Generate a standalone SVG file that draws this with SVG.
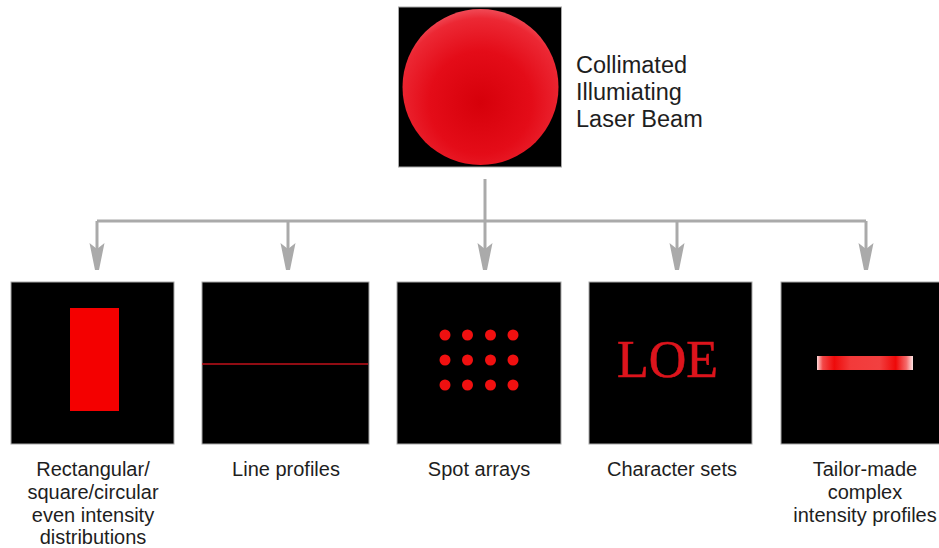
<svg xmlns="http://www.w3.org/2000/svg" width="939" height="548" viewBox="0 0 939 548">
<style>
  .panel { fill: #000; stroke: #a8a8a8; stroke-width: 1; }
  .lbl { font-family: "Liberation Sans", Arial, sans-serif; font-size: 20px; fill: #1e1e1e; text-anchor: middle; }
  .ttl { font-family: "Liberation Sans", Arial, sans-serif; font-size: 23.5px; fill: #1e1e1e; }
  .conn { stroke: #aaaaaa; stroke-width: 3; fill: none; }
  .head { fill: #aaaaaa; }
  .spot { fill: #f01010; }
</style>
<defs>
  <radialGradient id="beam" cx="0.5" cy="0.6" r="0.6">
    <stop offset="0" stop-color="#d6000a"/>
    <stop offset="0.55" stop-color="#e40c18"/>
    <stop offset="0.9" stop-color="#ec2834"/>
    <stop offset="1" stop-color="#f04a56"/>
  </radialGradient>
  <linearGradient id="bar" x1="0" y1="0" x2="1" y2="0">
    <stop offset="0" stop-color="#ffd8d8"/>
    <stop offset="0.06" stop-color="#f24848"/>
    <stop offset="0.18" stop-color="#ee0a0a"/>
    <stop offset="0.35" stop-color="#f23a3a"/>
    <stop offset="0.65" stop-color="#f24040"/>
    <stop offset="0.82" stop-color="#ee0808"/>
    <stop offset="0.93" stop-color="#f46a6a"/>
    <stop offset="1" stop-color="#ffe4e4"/>
  </linearGradient>
</defs>

<g id="connectors">
  <line class="conn" x1="485" y1="179" x2="485" y2="250"/>
  <line class="conn" x1="97" y1="221" x2="866" y2="221"/>
  <line class="conn" x1="97" y1="221" x2="97" y2="250"/>
  <line class="conn" x1="288" y1="221" x2="288" y2="250"/>
  <line class="conn" x1="677" y1="221" x2="677" y2="250"/>
  <line class="conn" x1="866" y1="221" x2="866" y2="250"/>
  <polygon class="head" points="89.5,243 97,249 104.5,243 99,270 95,270"/>
  <polygon class="head" points="280.5,243 288,249 295.5,243 290,270 286,270"/>
  <polygon class="head" points="477.5,243 485,249 492.5,243 487,270 483,270"/>
  <polygon class="head" points="669.5,243 677,249 684.5,243 679,270 675,270"/>
  <polygon class="head" points="858.5,243 866,249 873.5,243 868,270 864,270"/>
</g>

<g id="source">
  <rect class="panel" x="398.5" y="7" width="163" height="160"/>
  <circle cx="480.5" cy="87" r="78" fill="url(#beam)"/>
  <text class="ttl" x="576" y="73">Collimated</text>
  <text class="ttl" x="576" y="100">Illumiating</text>
  <text class="ttl" x="576" y="127">Laser Beam</text>
</g>

<g id="rectangular">
  <rect class="panel" x="11" y="282" width="163" height="162"/>
  <rect x="70" y="308" width="49" height="103" fill="#f40000"/>
  <text class="lbl" x="93" y="476">Rectangular/</text>
  <text class="lbl" x="93" y="499">square/circular</text>
  <text class="lbl" x="93" y="522">even intensity</text>
  <text class="lbl" x="93" y="544">distributions</text>
</g>

<g id="line-profiles">
  <rect class="panel" x="202" y="282" width="167" height="162"/>
  <line x1="202" y1="364" x2="368" y2="364" stroke="#c0101a" stroke-width="1.6"/>
  <text class="lbl" x="286" y="476">Line profiles</text>
</g>

<g id="spot-arrays">
  <rect class="panel" x="397" y="282" width="164" height="162"/>
  <circle class="spot" cx="445" cy="335" r="5.5"/>
  <circle class="spot" cx="467.5" cy="335" r="5.5"/>
  <circle class="spot" cx="490.5" cy="335" r="5.5"/>
  <circle class="spot" cx="513" cy="335" r="5.5"/>
  <circle class="spot" cx="445" cy="360" r="5.5"/>
  <circle class="spot" cx="467.5" cy="360" r="5.5"/>
  <circle class="spot" cx="490.5" cy="360" r="5.5"/>
  <circle class="spot" cx="513" cy="360" r="5.5"/>
  <circle class="spot" cx="445" cy="385" r="5.5"/>
  <circle class="spot" cx="467.5" cy="385" r="5.5"/>
  <circle class="spot" cx="490.5" cy="385" r="5.5"/>
  <circle class="spot" cx="513" cy="385" r="5.5"/>
  <text class="lbl" x="479" y="476">Spot arrays</text>
</g>

<g id="character-sets">
  <rect class="panel" x="589" y="282" width="163" height="162"/>
  <text x="667.5" y="377" font-family="'Liberation Serif', 'Times New Roman', serif" font-size="52" fill="#dc141c" stroke="#dc141c" stroke-width="0.6" text-anchor="middle">LOE</text>
  <text class="lbl" x="672" y="476">Character sets</text>
</g>

<g id="tailor-made">
  <rect class="panel" x="781" y="282" width="164" height="162"/>
  <rect x="817" y="356" width="96" height="14" fill="url(#bar)"/>
  <text class="lbl" x="865" y="476">Tailor-made</text>
  <text class="lbl" x="865" y="499">complex</text>
  <text class="lbl" x="865" y="522">intensity profiles</text>
</g>
</svg>
